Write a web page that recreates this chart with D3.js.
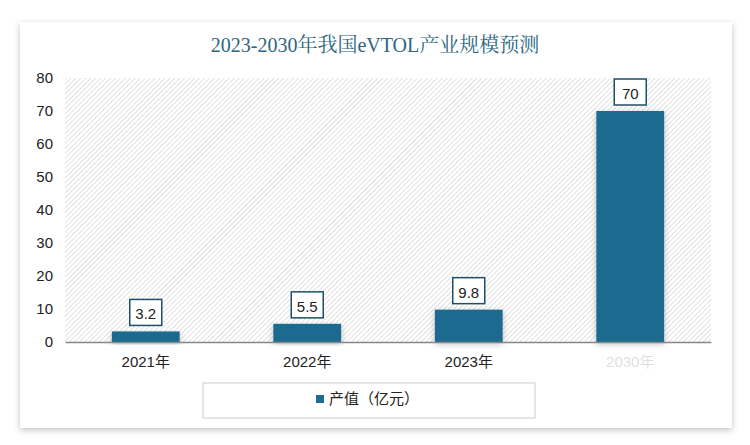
<!DOCTYPE html><html><head><meta charset="utf-8"><script src="https://cdn.jsdelivr.net/npm/d3@7"></script>
<style>body{margin:0;background:#fff}</style></head><body><svg id="c" width="750" height="445"></svg>
<script>
const categories=["2021年","2022年","2023年","2030年"];
const values=[3.2,5.5,9.8,70];
const yTicks=[0,10,20,30,40,50,60,70,80];
const svg=d3.select("#c");
const defs=svg.append("defs");
const f=defs.append("filter").attr("id","sh").attr("x","-10%").attr("y","-10%").attr("width","120%").attr("height","130%");
f.append("feDropShadow").attr("dx",0).attr("dy",2).attr("stdDeviation",3).attr("flood-color","#000").attr("flood-opacity",0.25);
const p=defs.append("pattern").attr("id","hatch").attr("width",3.5).attr("height",3.5).attr("patternUnits","userSpaceOnUse").attr("patternTransform","rotate(45)");
p.append("rect").attr("width",3.5).attr("height",3.5).attr("fill","#fff");
p.append("line").attr("x1",0).attr("y1",0).attr("x2",0).attr("y2",3.5).attr("stroke","#cfcfcf").attr("stroke-width",1.2);
svg.append("rect").attr("x",20).attr("y",22).attr("width",712).attr("height",406).attr("fill","#fff").attr("filter","url(#sh)");
svg.append("text").attr("x",375).attr("y",52).attr("text-anchor","middle").attr("font-family","Liberation Serif, Noto Serif CJK SC, serif").attr("font-size",20).attr("fill","#2c6781").text("2023-2030年我国eVTOL产业规模预测");
const x=d3.scaleBand().domain(categories).range([65,711]).paddingInner(0.58).paddingOuter(0.29);
const y=d3.scaleLinear().domain([0,80]).range([342,78]);
svg.append("rect").attr("x",65).attr("y",78).attr("width",646).attr("height",264).attr("fill","url(#hatch)");
const ya=svg.append("g").attr("transform","translate(56,0)").call(d3.axisLeft(y).tickValues(yTicks).tickSize(0).tickFormat(d3.format("d")));
ya.select(".domain").remove();
ya.selectAll("text").attr("font-family","Liberation Sans, Arial, sans-serif").attr("font-size",15).attr("fill","#222");
svg.selectAll(".bar").data(values).join("rect").attr("x",(d,i)=>x(categories[i])).attr("y",d=>y(d)).attr("width",x.bandwidth()).attr("height",d=>y(0)-y(d)).attr("fill","#1f6a8f").attr("filter","url(#sh)");
const xa=svg.append("g").attr("transform","translate(0,342)").call(d3.axisBottom(x).tickSize(0).tickPadding(14));
xa.select(".domain").attr("stroke","#888").attr("stroke-width",1.5);
xa.selectAll("text").attr("font-family","Liberation Sans, Noto Sans CJK SC, sans-serif").attr("font-size",15).attr("fill","#222");
const lab=svg.selectAll(".lab").data(values).join("g").attr("transform",(d,i)=>`translate(${x(categories[i])+x.bandwidth()/2},${y(d)-18})`);
lab.append("rect").attr("x",-16).attr("y",-14).attr("width",32).attr("height",26).attr("fill","#fff").attr("stroke","#1f4f66").attr("stroke-width",1.5);
lab.append("text").attr("text-anchor","middle").attr("y",6).attr("font-family","Liberation Sans, Arial, sans-serif").attr("font-size",15).attr("fill","#222").text(d=>d);
svg.append("rect").attr("x",500).attr("y",350).attr("width",200).attr("height",70).attr("fill","#fff").attr("opacity",0.85);
svg.append("rect").attr("x",203).attr("y",383).attr("width",332).attr("height",35).attr("fill","none").attr("stroke","#ccc");
svg.append("rect").attr("x",316).attr("y",395).attr("width",8).attr("height",8).attr("fill","#1f6a8f");
svg.append("text").attr("x",329).attr("y",404).attr("font-family","Noto Sans CJK SC, sans-serif").attr("font-size",15).attr("fill","#222").text("产值（亿元）");
</script></body></html>
